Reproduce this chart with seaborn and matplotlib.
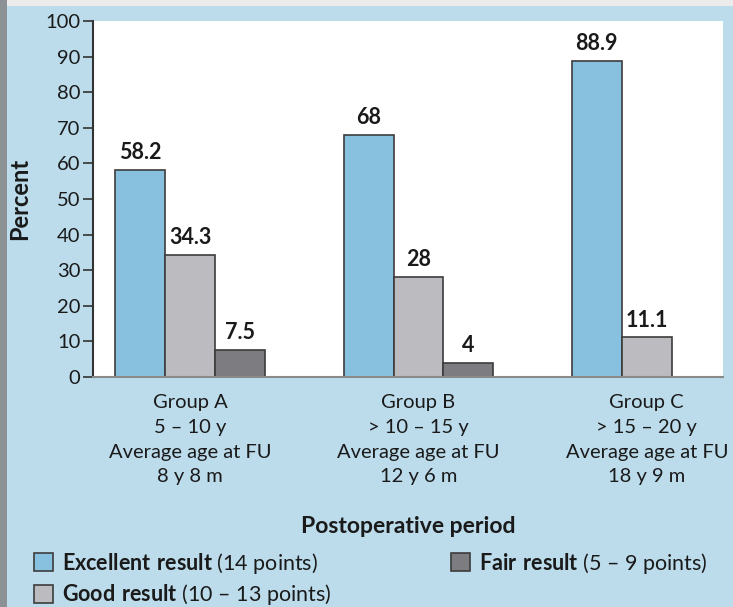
import matplotlib
matplotlib.use("Agg")
import matplotlib.pyplot as plt
import seaborn as sns
import pandas as pd
from matplotlib.patches import Rectangle, Patch

# ---- data ----
groups = ["Group A\n5 – 10 y\nAverage age at FU\n8 y 8 m",
          "Group B\n> 10 – 15 y\nAverage age at FU\n12 y 6 m",
          "Group C\n> 15 – 20 y\nAverage age at FU\n18 y 9 m"]
results = ["Excellent", "Good", "Fair"]
excellent = [58.2, 68, 88.9]
good = [34.3, 28, 11.1]
fair = [7.5, 4, None]
y_ticks = [0, 10, 20, 30, 40, 50, 60, 70, 80, 90, 100]
legend_bold = ["Excellent result", "Good result", "Fair result"]
legend_norm = ["(14 points)", "(10 – 13 points)", "(5 – 9 points)"]

colors = ["#88c1df", "#bcbbc0", "#7d7c81"]
bg = "#bcdcec"

rows = []
for res, vals in zip(results, [excellent, good, fair]):
    for g, v in zip(groups, vals):
        if v is not None:
            rows.append({"group": g, "result": res, "value": v})
df = pd.DataFrame(rows)

sns.set_style("white")
plt.rcParams["font.family"] = ["Lato", "DejaVu Sans"]
plt.rcParams["mathtext.fontset"] = "custom"
plt.rcParams["mathtext.rm"] = "Lato"
plt.rcParams["mathtext.bf"] = "Lato:bold"

fig = plt.figure(figsize=(7.33, 6.07), dpi=100, facecolor=bg)
W, H = 733, 607
# frame decorations
fig.patches.append(Rectangle((0, 1 - 6 / H), 1, 6 / H, transform=fig.transFigure,
                             facecolor="#ececec", edgecolor="none", zorder=0))
fig.patches.append(Rectangle((0, 0), 7 / W, 1, transform=fig.transFigure,
                             facecolor="#8c9196", edgecolor="none", zorder=0))

ax = fig.add_axes([93 / W, (H - 377) / H, 630 / W, (377 - 21) / H])
ax.set_facecolor("white")

sns.barplot(data=df, x="group", y="value", hue="result", order=groups,
            hue_order=results, palette=colors, width=0.657, saturation=1,
            edgecolor="#3c3c3c", linewidth=1.2, ax=ax, legend=False)

for cont in ax.containers:
    ax.bar_label(cont, labels=[f"{b.get_height():g}" for b in cont],
                 padding=5, fontsize=15.5, fontweight="bold", color="#1a1a1a")

ax.set_ylim(0, 100)
ax.set_xlim(-0.426, 2.334)
ax.set_yticks(y_ticks)
ax.tick_params(axis="y", which="both", left=True, length=7, width=1.2,
               color="#333333", labelsize=14.5, labelcolor="#1a1a1a", pad=2)
ax.tick_params(axis="x", bottom=False, labelsize=14.5, labelcolor="#1a1a1a", pad=9)
for lbl in ax.get_xticklabels():
    lbl.set_linespacing(1.55)

for s in ["top", "right"]:
    ax.spines[s].set_visible(False)
ax.spines["left"].set_color("#333333")
ax.spines["left"].set_linewidth(1.5)
ax.spines["bottom"].set_color("#8a8a8a")
ax.spines["bottom"].set_linewidth(1.5)

ax.set_ylabel("Percent", fontsize=17, fontweight="bold", color="#1a1a1a", labelpad=10)
ax.set_xlabel("Postoperative period", fontsize=16.5, fontweight="bold",
              color="#1a1a1a", labelpad=22)

handles = [Patch(facecolor=c, edgecolor="#3c3c3c", linewidth=1.2) for c in colors]
labels = [r"$\mathbf{" + b.replace(" ", r"\ ") + "}$ " + n
          for b, n in zip(legend_bold, legend_norm)]
fig.legend(handles, labels, ncol=2, loc="lower left",
           bbox_to_anchor=(34 / W, 0 / H), frameon=False, fontsize=15.5,
           handlelength=0.9, handleheight=0.9, handletextpad=0.4,
           borderpad=0, borderaxespad=0,
           columnspacing=5.55, labelspacing=0.3, labelcolor="#1a1a1a")

fig.savefig("out.png", dpi=100, facecolor=bg)
